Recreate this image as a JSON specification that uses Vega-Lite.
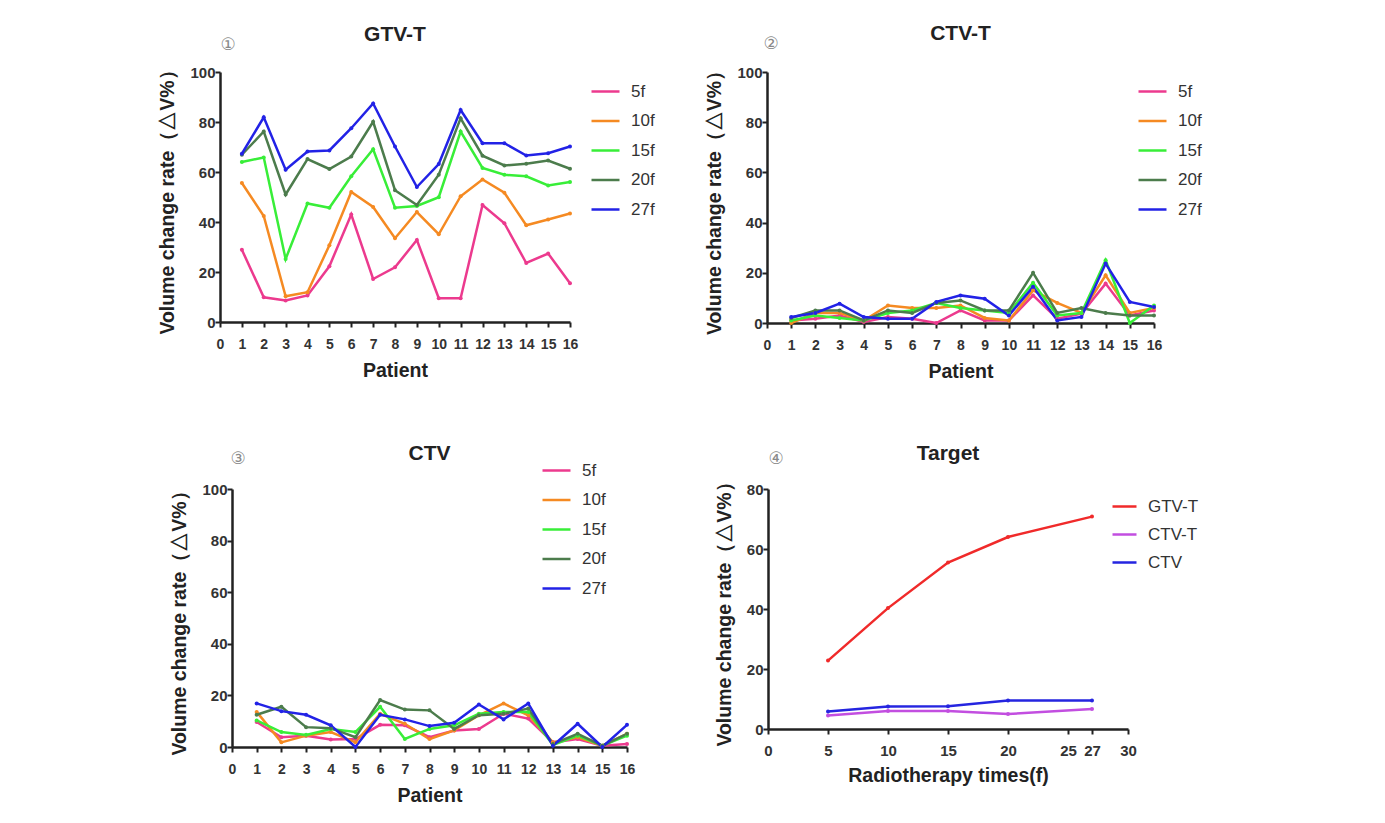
{
  "$schema": "https://vega.github.io/schema/vega-lite/v6.json",
  "background": "white",
  "autosize": {"type": "pad"},
  "padding": {"left": 157, "top": 23, "right": 5, "bottom": 5},
  "config": {
    "view": {"stroke": null},
    "axis": {
      "grid": false,
      "domainColor": "#222",
      "domainWidth": 2.5,
      "tickColor": "#222",
      "tickWidth": 2,
      "tickSize": 5,
      "tickCount": 20,
      "labelFont": "Liberation Sans",
      "labelFontWeight": "bold",
      "labelFontSize": 15,
      "labelColor": "#333",
      "labelPadding": 0,
      "labelFlush": false,
      "labelOverlap": false,
      "titleFont": "Liberation Sans",
      "titleFontWeight": "bold",
      "titleFontSize": 19.5,
      "titleColor": "#222"
    },
    "title": {"font": "Liberation Sans", "fontSize": 21, "fontWeight": "bold", "color": "#222", "anchor": "middle", "frame": "group"},
    "legend": {
      "orient": "none",
      "title": null,
      "symbolType": "stroke",
      "symbolSize": 784,
      "symbolStrokeWidth": 2.5,
      "labelFont": "Liberation Sans",
      "labelFontSize": 17,
      "labelColor": "#333",
      "labelOffset": 10,
      "rowPadding": 5.5
    }
  },
  "datasets": {
    "gtv": [
      {"patient":1,"fraction":"5f","value":28.9},{"patient":2,"fraction":"5f","value":9.9},{"patient":3,"fraction":"5f","value":8.6},{"patient":4,"fraction":"5f","value":10.6},{"patient":5,"fraction":"5f","value":22.3},{"patient":6,"fraction":"5f","value":43},{"patient":7,"fraction":"5f","value":17.2},{"patient":8,"fraction":"5f","value":21.9},{"patient":9,"fraction":"5f","value":32.8},{"patient":10,"fraction":"5f","value":9.5},{"patient":11,"fraction":"5f","value":9.5},{"patient":12,"fraction":"5f","value":46.8},{"patient":13,"fraction":"5f","value":39.5},{"patient":14,"fraction":"5f","value":23.6},{"patient":15,"fraction":"5f","value":27.4},{"patient":16,"fraction":"5f","value":15.5},
      {"patient":1,"fraction":"10f","value":55.6},{"patient":2,"fraction":"10f","value":42.4},{"patient":3,"fraction":"10f","value":10.3},{"patient":4,"fraction":"10f","value":11.9},{"patient":5,"fraction":"10f","value":30.7},{"patient":6,"fraction":"10f","value":52},{"patient":7,"fraction":"10f","value":46},{"patient":8,"fraction":"10f","value":33.5},{"patient":9,"fraction":"10f","value":44},{"patient":10,"fraction":"10f","value":35.1},{"patient":11,"fraction":"10f","value":50.3},{"patient":12,"fraction":"10f","value":57},{"patient":13,"fraction":"10f","value":51.7},{"patient":14,"fraction":"10f","value":38.7},{"patient":15,"fraction":"10f","value":41},{"patient":16,"fraction":"10f","value":43.4},
      {"patient":1,"fraction":"15f","value":64},{"patient":2,"fraction":"15f","value":65.8},{"patient":3,"fraction":"15f","value":25.2},{"patient":4,"fraction":"15f","value":47.4},{"patient":5,"fraction":"15f","value":45.7},{"patient":6,"fraction":"15f","value":58.3},{"patient":7,"fraction":"15f","value":69.1},{"patient":8,"fraction":"15f","value":45.7},{"patient":9,"fraction":"15f","value":46.4},{"patient":10,"fraction":"15f","value":49.9},{"patient":11,"fraction":"15f","value":76.2},{"patient":12,"fraction":"15f","value":61.6},{"patient":13,"fraction":"15f","value":58.9},{"patient":14,"fraction":"15f","value":58.3},{"patient":15,"fraction":"15f","value":54.6},{"patient":16,"fraction":"15f","value":56},
      {"patient":1,"fraction":"20f","value":66.9},{"patient":2,"fraction":"20f","value":76.2},{"patient":3,"fraction":"20f","value":51},{"patient":4,"fraction":"20f","value":65.2},{"patient":5,"fraction":"20f","value":61.2},{"patient":6,"fraction":"20f","value":66.2},{"patient":7,"fraction":"20f","value":80.1},{"patient":8,"fraction":"20f","value":52.7},{"patient":9,"fraction":"20f","value":46.8},{"patient":10,"fraction":"20f","value":58.9},{"patient":11,"fraction":"20f","value":81.5},{"patient":12,"fraction":"20f","value":66.5},{"patient":13,"fraction":"20f","value":62.6},{"patient":14,"fraction":"20f","value":63.3},{"patient":15,"fraction":"20f","value":64.6},{"patient":16,"fraction":"20f","value":61.3},
      {"patient":1,"fraction":"27f","value":67.3},{"patient":2,"fraction":"27f","value":81.9},{"patient":3,"fraction":"27f","value":60.9},{"patient":4,"fraction":"27f","value":68.2},{"patient":5,"fraction":"27f","value":68.6},{"patient":6,"fraction":"27f","value":77.5},{"patient":7,"fraction":"27f","value":87.4},{"patient":8,"fraction":"27f","value":70.2},{"patient":9,"fraction":"27f","value":54},{"patient":10,"fraction":"27f","value":63.2},{"patient":11,"fraction":"27f","value":84.8},{"patient":12,"fraction":"27f","value":71.5},{"patient":13,"fraction":"27f","value":71.5},{"patient":14,"fraction":"27f","value":66.6},{"patient":15,"fraction":"27f","value":67.5},{"patient":16,"fraction":"27f","value":70.2}
    ],
    "ctvt": [
      {"patient":1,"fraction":"5f","value":1},{"patient":2,"fraction":"5f","value":1.7},{"patient":3,"fraction":"5f","value":3},{"patient":4,"fraction":"5f","value":0.4},{"patient":5,"fraction":"5f","value":2.4},{"patient":6,"fraction":"5f","value":1.7},{"patient":7,"fraction":"5f","value":0},{"patient":8,"fraction":"5f","value":5},{"patient":9,"fraction":"5f","value":1},{"patient":10,"fraction":"5f","value":1},{"patient":11,"fraction":"5f","value":11},{"patient":12,"fraction":"5f","value":1.7},{"patient":13,"fraction":"5f","value":3.7},{"patient":14,"fraction":"5f","value":15.7},{"patient":15,"fraction":"5f","value":3},{"patient":16,"fraction":"5f","value":5},
      {"patient":1,"fraction":"10f","value":0},{"patient":2,"fraction":"10f","value":4},{"patient":3,"fraction":"10f","value":4},{"patient":4,"fraction":"10f","value":1},{"patient":5,"fraction":"10f","value":7},{"patient":6,"fraction":"10f","value":6},{"patient":7,"fraction":"10f","value":6},{"patient":8,"fraction":"10f","value":7},{"patient":9,"fraction":"10f","value":2},{"patient":10,"fraction":"10f","value":1},{"patient":11,"fraction":"10f","value":13},{"patient":12,"fraction":"10f","value":8},{"patient":13,"fraction":"10f","value":4},{"patient":14,"fraction":"10f","value":19},{"patient":15,"fraction":"10f","value":4},{"patient":16,"fraction":"10f","value":6},
      {"patient":1,"fraction":"15f","value":1},{"patient":2,"fraction":"15f","value":3},{"patient":3,"fraction":"15f","value":2},{"patient":4,"fraction":"15f","value":1},{"patient":5,"fraction":"15f","value":4},{"patient":6,"fraction":"15f","value":5},{"patient":7,"fraction":"15f","value":8},{"patient":8,"fraction":"15f","value":6},{"patient":9,"fraction":"15f","value":5},{"patient":10,"fraction":"15f","value":4},{"patient":11,"fraction":"15f","value":16},{"patient":12,"fraction":"15f","value":3},{"patient":13,"fraction":"15f","value":4},{"patient":14,"fraction":"15f","value":25},{"patient":15,"fraction":"15f","value":0},{"patient":16,"fraction":"15f","value":7},
      {"patient":1,"fraction":"20f","value":2},{"patient":2,"fraction":"20f","value":5},{"patient":3,"fraction":"20f","value":5},{"patient":4,"fraction":"20f","value":1},{"patient":5,"fraction":"20f","value":5},{"patient":6,"fraction":"20f","value":4},{"patient":7,"fraction":"20f","value":8},{"patient":8,"fraction":"20f","value":9},{"patient":9,"fraction":"20f","value":5},{"patient":10,"fraction":"20f","value":5},{"patient":11,"fraction":"20f","value":20},{"patient":12,"fraction":"20f","value":4},{"patient":13,"fraction":"20f","value":6},{"patient":14,"fraction":"20f","value":4},{"patient":15,"fraction":"20f","value":3},{"patient":16,"fraction":"20f","value":3},
      {"patient":1,"fraction":"27f","value":2.4},{"patient":2,"fraction":"27f","value":4},{"patient":3,"fraction":"27f","value":7.7},{"patient":4,"fraction":"27f","value":2.4},{"patient":5,"fraction":"27f","value":1.7},{"patient":6,"fraction":"27f","value":1.7},{"patient":7,"fraction":"27f","value":8.4},{"patient":8,"fraction":"27f","value":11},{"patient":9,"fraction":"27f","value":9.7},{"patient":10,"fraction":"27f","value":3},{"patient":11,"fraction":"27f","value":14.4},{"patient":12,"fraction":"27f","value":1},{"patient":13,"fraction":"27f","value":2.4},{"patient":14,"fraction":"27f","value":23.7},{"patient":15,"fraction":"27f","value":8.4},{"patient":16,"fraction":"27f","value":6.4}
    ],
    "ctv": [
      {"patient":1,"fraction":"5f","value":9.7},{"patient":2,"fraction":"5f","value":3.8},{"patient":3,"fraction":"5f","value":4.4},{"patient":4,"fraction":"5f","value":2.9},{"patient":5,"fraction":"5f","value":3.1},{"patient":6,"fraction":"5f","value":8.6},{"patient":7,"fraction":"5f","value":8.4},{"patient":8,"fraction":"5f","value":3.8},{"patient":9,"fraction":"5f","value":6.4},{"patient":10,"fraction":"5f","value":7},{"patient":11,"fraction":"5f","value":12.9},{"patient":12,"fraction":"5f","value":11},{"patient":13,"fraction":"5f","value":1.8},{"patient":14,"fraction":"5f","value":3.1},{"patient":15,"fraction":"5f","value":0.5},{"patient":16,"fraction":"5f","value":1.2},
      {"patient":1,"fraction":"10f","value":13.6},{"patient":2,"fraction":"10f","value":1.8},{"patient":3,"fraction":"10f","value":4.4},{"patient":4,"fraction":"10f","value":5.8},{"patient":5,"fraction":"10f","value":1.8},{"patient":6,"fraction":"10f","value":12.9},{"patient":7,"fraction":"10f","value":9},{"patient":8,"fraction":"10f","value":3.1},{"patient":9,"fraction":"10f","value":6.4},{"patient":10,"fraction":"10f","value":12.3},{"patient":11,"fraction":"10f","value":16.9},{"patient":12,"fraction":"10f","value":12.3},{"patient":13,"fraction":"10f","value":1.8},{"patient":14,"fraction":"10f","value":3.8},{"patient":15,"fraction":"10f","value":0.5},{"patient":16,"fraction":"10f","value":5.1},
      {"patient":1,"fraction":"15f","value":10.3},{"patient":2,"fraction":"15f","value":5.8},{"patient":3,"fraction":"15f","value":4.7},{"patient":4,"fraction":"15f","value":7},{"patient":5,"fraction":"15f","value":5.8},{"patient":6,"fraction":"15f","value":15.6},{"patient":7,"fraction":"15f","value":3.1},{"patient":8,"fraction":"15f","value":7},{"patient":9,"fraction":"15f","value":8.4},{"patient":10,"fraction":"15f","value":12.9},{"patient":11,"fraction":"15f","value":13.6},{"patient":12,"fraction":"15f","value":13.6},{"patient":13,"fraction":"15f","value":0.8},{"patient":14,"fraction":"15f","value":4.4},{"patient":15,"fraction":"15f","value":0.5},{"patient":16,"fraction":"15f","value":4.4},
      {"patient":1,"fraction":"20f","value":12.5},{"patient":2,"fraction":"20f","value":15.6},{"patient":3,"fraction":"20f","value":7.7},{"patient":4,"fraction":"20f","value":7.3},{"patient":5,"fraction":"20f","value":3.8},{"patient":6,"fraction":"20f","value":18.2},{"patient":7,"fraction":"20f","value":14.5},{"patient":8,"fraction":"20f","value":14.2},{"patient":9,"fraction":"20f","value":7},{"patient":10,"fraction":"20f","value":12.3},{"patient":11,"fraction":"20f","value":12.9},{"patient":12,"fraction":"20f","value":14.9},{"patient":13,"fraction":"20f","value":1.2},{"patient":14,"fraction":"20f","value":5.1},{"patient":15,"fraction":"20f","value":0.5},{"patient":16,"fraction":"20f","value":5.1},
      {"patient":1,"fraction":"27f","value":16.9},{"patient":2,"fraction":"27f","value":13.9},{"patient":3,"fraction":"27f","value":12.5},{"patient":4,"fraction":"27f","value":8.4},{"patient":5,"fraction":"27f","value":0},{"patient":6,"fraction":"27f","value":12.5},{"patient":7,"fraction":"27f","value":10.7},{"patient":8,"fraction":"27f","value":8.1},{"patient":9,"fraction":"27f","value":9.4},{"patient":10,"fraction":"27f","value":16.5},{"patient":11,"fraction":"27f","value":10.7},{"patient":12,"fraction":"27f","value":16.9},{"patient":13,"fraction":"27f","value":0.5},{"patient":14,"fraction":"27f","value":9},{"patient":15,"fraction":"27f","value":0},{"patient":16,"fraction":"27f","value":8.6}
    ],
    "target": [
      {"times":5,"target":"GTV-T","value":22.8},{"times":10,"target":"GTV-T","value":40.3},{"times":15,"target":"GTV-T","value":55.5},{"times":20,"target":"GTV-T","value":64},{"times":27,"target":"GTV-T","value":70.8},
      {"times":5,"target":"CTV-T","value":4.5},{"times":10,"target":"CTV-T","value":6},{"times":15,"target":"CTV-T","value":6},{"times":20,"target":"CTV-T","value":5},{"times":27,"target":"CTV-T","value":6.7},
      {"times":5,"target":"CTV","value":5.8},{"times":10,"target":"CTV","value":7.5},{"times":15,"target":"CTV","value":7.6},{"times":20,"target":"CTV","value":9.5},{"times":27,"target":"CTV","value":9.5}
    ]
  },
  "spacing": 62,
  "resolve": {"scale": {"x": "independent", "y": "independent", "color": "independent"}, "legend": {"color": "independent"}, "axis": {"x": "independent", "y": "independent"}},
  "vconcat": [
    {
      "bounds": "flush",
      "spacing": 197,
      "resolve": {"scale": {"x": "independent", "y": "independent", "color": "independent"}, "legend": {"color": "independent"}},
      "hconcat": [
        {
          "width": 350,
          "height": 250,
          "title": {"text": "GTV-T", "offset": -9},
          "layer": [
            {
              "data": {"name": "gtv"},
              "mark": {"type": "line", "strokeWidth": 2.5, "point": {"filled": true, "size": 16}},
              "encoding": {
                "x": {"field": "patient", "type": "quantitative", "scale": {"domain": [0, 16], "nice": false}, "axis": {"values": [0,1,2,3,4,5,6,7,8,9,10,11,12,13,14,15,16], "tickCount": 20, "labelOverlap": false, "labelFontSize": 14, "title": "Patient", "labelPadding": 10, "titlePadding": 10}},
                "y": {"field": "value", "type": "quantitative", "scale": {"domain": [0, 100], "nice": false}, "axis": {"values": [0,20,40,60,80,100], "title": "Volume change rate（△V%）", "titlePadding": 12}},
                "color": {"field": "fraction", "type": "nominal", "scale": {"domain": ["5f","10f","15f","20f","27f"], "range": ["#ec3a8e","#f58a22","#38ee38","#4c7c4c","#2222e6"]}, "legend": {"legendX": 370, "legendY": 4}}
              }
            },
            {
              "data": {"values": [{}]},
              "mark": {"type": "text", "font": "DejaVu Sans", "fontSize": 17, "color": "#8a8a8a"},
              "encoding": {"x": {"datum": 0.37}, "y": {"datum": 111}, "text": {"value": "①"}}
            }
          ]
        },
        {
          "width": 387,
          "height": 251,
          "title": {"text": "CTV-T", "offset": -9},
          "layer": [
            {
              "data": {"name": "ctvt"},
              "mark": {"type": "line", "strokeWidth": 2.5, "point": {"filled": true, "size": 16}},
              "encoding": {
                "x": {"field": "patient", "type": "quantitative", "scale": {"domain": [0, 16], "nice": false}, "axis": {"values": [0,1,2,3,4,5,6,7,8,9,10,11,12,13,14,15,16], "tickCount": 20, "labelOverlap": false, "labelFontSize": 14, "title": "Patient", "labelPadding": 10, "titlePadding": 10}},
                "y": {"field": "value", "type": "quantitative", "scale": {"domain": [0, 100], "nice": false}, "axis": {"values": [0,20,40,60,80,100], "title": "Volume change rate（△V%）", "titlePadding": 12}},
                "color": {"field": "fraction", "type": "nominal", "scale": {"domain": ["5f","10f","15f","20f","27f"], "range": ["#ec3a8e","#f58a22","#38ee38","#4c7c4c","#2222e6"]}, "legend": {"legendX": 370, "legendY": 4}}
              }
            },
            {
              "data": {"values": [{}]},
              "mark": {"type": "text", "font": "DejaVu Sans", "fontSize": 17, "color": "#8a8a8a"},
              "encoding": {"x": {"datum": 0.17}, "y": {"datum": 111}, "text": {"value": "②"}}
            }
          ]
        }
      ]
    },
    {
      "bounds": "flush",
      "spacing": 141,
      "resolve": {"scale": {"x": "independent", "y": "independent", "color": "independent"}, "legend": {"color": "independent"}},
      "hconcat": [
        {
          "width": 407,
          "height": 258,
          "title": {"text": "CTV", "offset": -14, "dx": 6},
          "layer": [
            {
              "data": {"name": "ctv"},
              "mark": {"type": "line", "strokeWidth": 2.5, "point": {"filled": true, "size": 16}},
              "encoding": {
                "x": {"field": "patient", "type": "quantitative", "scale": {"domain": [0, 16], "nice": false, "range": [12, 407]}, "axis": {"values": [0,1,2,3,4,5,6,7,8,9,10,11,12,13,14,15,16], "tickCount": 20, "labelOverlap": false, "labelFontSize": 14, "title": "Patient", "labelPadding": 10, "titlePadding": 10}},
                "y": {"field": "value", "type": "quantitative", "scale": {"domain": [0, 100], "nice": false}, "axis": {"values": [0,20,40,60,80,100], "title": "Volume change rate（△V%）", "titlePadding": 12, "offset": -12}},
                "color": {"field": "fraction", "type": "nominal", "scale": {"domain": ["5f","10f","15f","20f","27f"], "range": ["#ec3a8e","#f58a22","#38ee38","#4c7c4c","#2222e6"]}, "legend": {"legendX": 321, "legendY": -34}}
              }
            },
            {
              "data": {"values": [{}]},
              "mark": {"type": "text", "font": "DejaVu Sans", "fontSize": 17, "color": "#8a8a8a"},
              "encoding": {"x": {"datum": 0.25}, "y": {"datum": 111.5}, "text": {"value": "③"}}
            }
          ]
        },
        {
          "width": 360,
          "height": 240,
          "title": {"text": "Target", "offset": -14},
          "layer": [
            {
              "data": {"name": "target"},
              "mark": {"type": "line", "strokeWidth": 2.5, "point": {"filled": true, "size": 16}},
              "encoding": {
                "x": {"field": "times", "type": "quantitative", "scale": {"domain": [0, 30], "nice": false}, "axis": {"values": [0,5,10,15,20,25,27,30], "tickCount": 20, "labelOverlap": false, "title": "Radiotherapy times(f)", "labelPadding": 9, "titlePadding": 8}},
                "y": {"field": "value", "type": "quantitative", "scale": {"domain": [0, 80], "nice": false}, "axis": {"values": [0,20,40,60,80], "title": "Volume change rate（△V%）", "titlePadding": 12}},
                "color": {"field": "target", "type": "nominal", "scale": {"domain": ["GTV-T","CTV-T","CTV"], "range": ["#f02a2a","#c24ee0","#2525e0"]}, "legend": {"legendX": 343, "legendY": 4, "symbolSize": 576, "rowPadding": 6}}
              }
            },
            {
              "data": {"values": [{}]},
              "mark": {"type": "text", "font": "DejaVu Sans", "fontSize": 17, "color": "#8a8a8a"},
              "encoding": {"x": {"datum": 0.67}, "y": {"datum": 90}, "text": {"value": "④"}}
            }
          ]
        }
      ]
    }
  ]
}
